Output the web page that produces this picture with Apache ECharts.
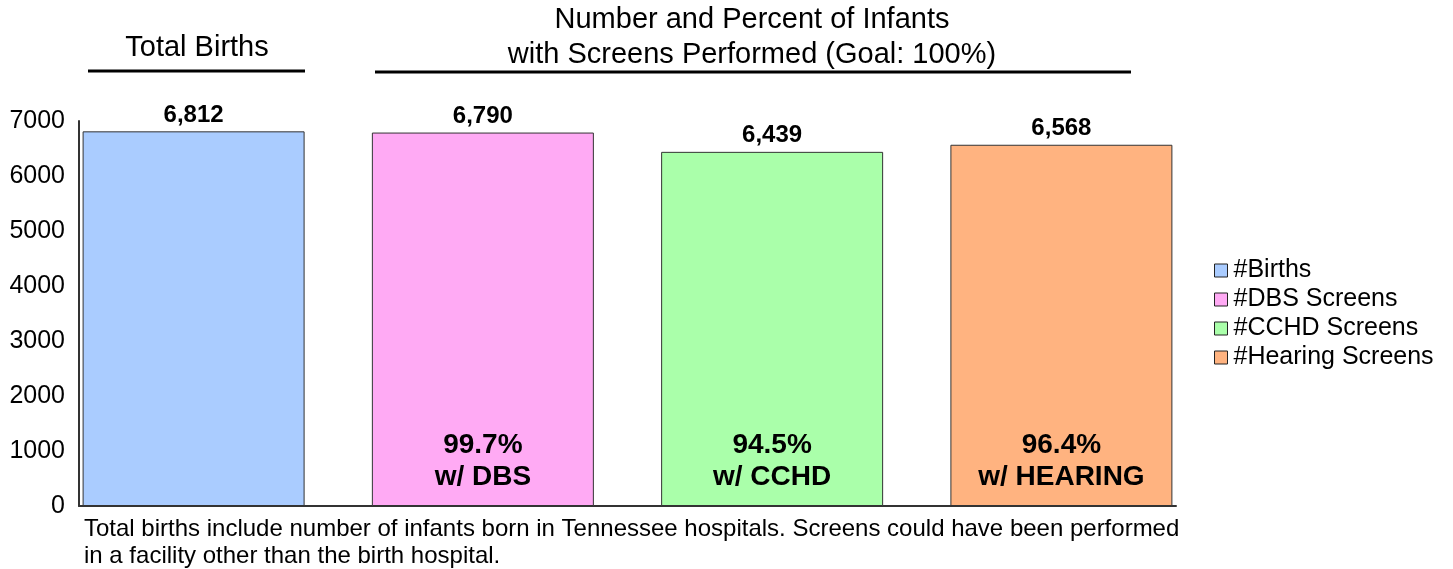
<!DOCTYPE html>
<html>
<head>
<meta charset="utf-8">
<script src="https://cdn.jsdelivr.net/npm/echarts@6/dist/echarts.min.js"></script>
<style>html,body{margin:0;padding:0;background:#fff}#c{width:1453px;height:569px}</style>
</head>
<body>
<div id="c"></div>
<script>
const seriesNames = ['#Births', '#DBS Screens', '#CCHD Screens', '#Hearing Screens'];
const values = [6812, 6790, 6439, 6568];
const pctLabels = ['', '99.7%\nw/ DBS', '94.5%\nw/ CCHD', '96.4%\nw/ HEARING'];
const colors = ['#aaccff', '#ffaaf4', '#aaffaa', '#ffb380'];
const yTicks = [0, 1000, 2000, 3000, 4000, 5000, 6000, 7000];

const FONT = 'Liberation Sans, Arial, sans-serif';
const chart = echarts.init(document.getElementById('c'));

const series = [];
seriesNames.forEach((name, i) => {
  series.push({
    name: name,
    type: 'bar',
    stack: 's' + i,
    barWidth: 222,
    barGap: '30.3%',
    data: [values[i]],
    itemStyle: { color: colors[i], borderColor: '#333', borderWidth: 1 },
    label: {
      show: !!pctLabels[i],
      position: 'insideBottom',
      distance: 13,
      formatter: () => pctLabels[i],
      color: '#000',
      fontFamily: FONT,
      fontWeight: 'bold',
      fontSize: 28,
      lineHeight: 32
    },
    silent: true
  });
  series.push({
    name: name + ' value',
    type: 'bar',
    stack: 's' + i,
    barWidth: 222,
    barGap: '30.3%',
    data: [0],
    itemStyle: { color: 'rgba(0,0,0,0)', borderWidth: 0 },
    label: {
      show: true,
      position: 'top',
      distance: 4,
      formatter: () => values[i].toLocaleString('en-US'),
      color: '#000',
      fontFamily: FONT,
      fontWeight: 'bold',
      fontSize: 24
    },
    silent: true
  });
});

chart.setOption({
  animation: false,
  textStyle: { fontFamily: FONT },
  color: colors,
  title: [
    { text: 'Total Births', left: 197, top: 33, padding: 0, textAlign: 'center',
      textStyle: { fontFamily: FONT, fontWeight: 'normal', fontSize: 29, lineHeight: 29, color: '#000' } },
    { text: 'Number and Percent of Infants\nwith Screens Performed (Goal: 100%)', left: 752, top: 2, padding: 0, textAlign: 'center',
      textStyle: { fontFamily: FONT, fontWeight: 'normal', fontSize: 29, lineHeight: 35, color: '#000' } },
    { text: 'Total births include number of infants born in Tennessee hospitals. Screens could have been performed\nin a facility other than the birth hospital.',
      left: 84, top: 516, padding: 0,
      textStyle: { fontFamily: FONT, fontWeight: 'normal', fontSize: 24, lineHeight: 27, color: '#000' } }
  ],
  graphic: [
    { type: 'line', shape: { x1: 88, y1: 71, x2: 305, y2: 71 }, style: { stroke: '#000', lineWidth: 3 } },
    { type: 'line', shape: { x1: 375, y1: 72, x2: 1131, y2: 72 }, style: { stroke: '#000', lineWidth: 3 } }
  ],
  legend: {
    data: seriesNames,
    orient: 'vertical',
    left: 1209,
    top: 253,
    itemWidth: 13,
    itemHeight: 13,
    itemGap: 4,
    icon: 'rect',
    selectedMode: false,
    itemStyle: { borderColor: '#222', borderWidth: 1 },
    textStyle: { fontFamily: FONT, fontSize: 25, lineHeight: 25, color: '#000', padding: [0, 0, 0, 1] }
  },
  grid: { left: 79, right: 277, top: 121, bottom: 63, containLabel: false },
  xAxis: {
    type: 'category',
    data: [''],
    axisLine: { show: true, lineStyle: { color: '#333', width: 2 } },
    axisTick: { show: false },
    axisLabel: { show: false }
  },
  yAxis: {
    type: 'value',
    min: yTicks[0],
    max: yTicks[yTicks.length - 1],
    interval: 1000,
    axisLine: { show: true, lineStyle: { color: '#333', width: 2 } },
    axisTick: { show: false },
    splitLine: { show: false },
    axisLabel: { fontFamily: FONT, fontSize: 25, color: '#000', margin: 14, formatter: v => String(v) }
  },
  series: series
});
</script>
</body>
</html>
